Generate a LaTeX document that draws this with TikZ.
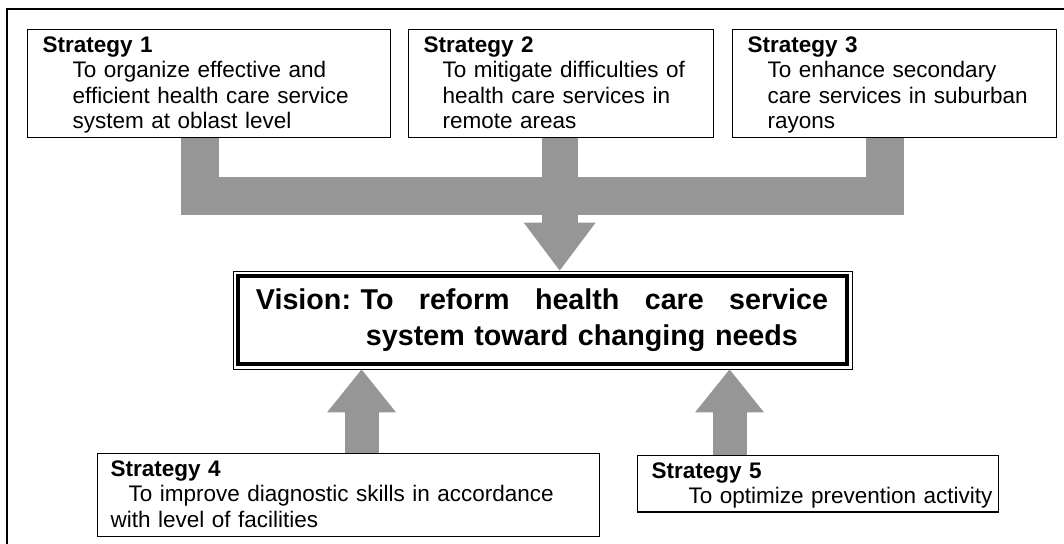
\documentclass[tikz,border=0pt]{standalone}
\usepackage{fontspec}
\setmainfont{Liberation Sans}
\usetikzlibrary{arrows.meta,fit}
\definecolor{flowgray}{RGB}{150,150,150}
\newcommand\boxfont{\fontsize{16pt}{18pt}\selectfont}
\newcommand\visionfont{\fontsize{20.4pt}{25.6pt}\selectfont\bfseries}
% fixed room above the first and below the last line of a box
\newcommand\headroom{\rule{0pt}{0.575cm}}
\newcommand\footroom[1][0.225cm]{\rule[-#1]{0pt}{0pt}}

\begin{document}
\begin{tikzpicture}[x=0.025cm,y=0.025cm,
  stratbox/.style={draw, line width=0.9pt, anchor=north west, align=left, inner ysep=0pt, font=\boxfont},
  flowbar/.style={flowgray, line width=0.95cm, line join=miter},
  downflow/.style={flowgray, line width=0.9cm, -{Triangle[length=1.2cm,width=1.8cm,line width=0pt]}},
  upflow/.style={flowgray, line width=0.85cm, -{Triangle[length=1.075cm,width=1.725cm,line width=0pt]}}]
\useasboundingbox (0,0) rectangle (1064,-544);
% frame, open to the right and bottom
\draw [line width=0.9pt] (7,-544) -- (7,-9) -- (1064,-9);

% strategies on top
\node [stratbox, inner xsep=0.375cm, text width=8.325cm] (s1) at (27,-29)
  {\headroom\textbf{Strategy 1}\\\hspace*{0.75cm}To organize effective and\\
   \hspace*{0.75cm}efficient health care service\\\hspace*{0.75cm}system at oblast level\footroom};
\node [stratbox, inner xsep=0.375cm, text width=6.875cm] (s2) at (408,-29)
  {\headroom\textbf{Strategy 2}\\\hspace*{0.475cm}To mitigate difficulties of\\
   \hspace*{0.475cm}health care services in\\\hspace*{0.475cm}remote areas\footroom};
\node [stratbox, inner xsep=0.375cm, text width=7.35cm] (s3) at (732,-29)
  {\headroom\textbf{Strategy 3}\\\hspace*{0.5cm}To enhance secondary\\
   \hspace*{0.5cm}care services in suburban\\\hspace*{0.5cm}rayons\footroom};

% vision
\node [draw, line width=0.1cm, outer sep=0pt, minimum width=15.225cm, minimum height=2.2cm,
  text width=14.325cm, align=left, font=\visionfont] (vision) at (542.5,-320)
  {\makebox[14.3cm][l]{Vision:~To\hfill reform\hfill health\hfill care\hfill service}\\
   \hspace*{2.75cm}system toward changing needs};
\node [draw, line width=0.6pt, fit=(vision), inner sep=0.125cm] (visionframe) {};

% strategies below
\node [stratbox, inner xsep=0.325cm, text width=11.9cm] (s4) at (97,-453)
  {\headroom\textbf{Strategy 4}\\\hspace*{0.45cm}To improve diagnostic skills in accordance\\
   with level of facilities\footroom};
\node [stratbox, inner xsep=0.35cm, text width=8.325cm] (s5) at (637,-455)
  {\headroom\textbf{Strategy 5}\\\mbox{\hspace*{0.925cm}To optimize prevention activity}\footroom[0.2cm]};

% gray flows
\coordinate (out1) at ([xshift=-0.225cm]s1.south);
\coordinate (out2) at ([xshift=-0.0375cm]s2.south);
\coordinate (out3) at ([xshift=-0.25cm]s3.south);
\coordinate (join) at ([yshift=-1.45cm]out2);
\draw [flowbar] (out1) |- (join -| out3) -- (out3);
\draw [downflow] (out2) -- (out2 |- visionframe.north);

\coordinate (in4) at ([xshift=6.6125cm]s4.north west);
\coordinate (in5) at ([xshift=2.3125cm]s5.north west);
\draw [upflow] (in4) -- (in4 |- visionframe.south);
\draw [upflow] (in5) -- (in5 |- visionframe.south);
\end{tikzpicture}
\end{document}
